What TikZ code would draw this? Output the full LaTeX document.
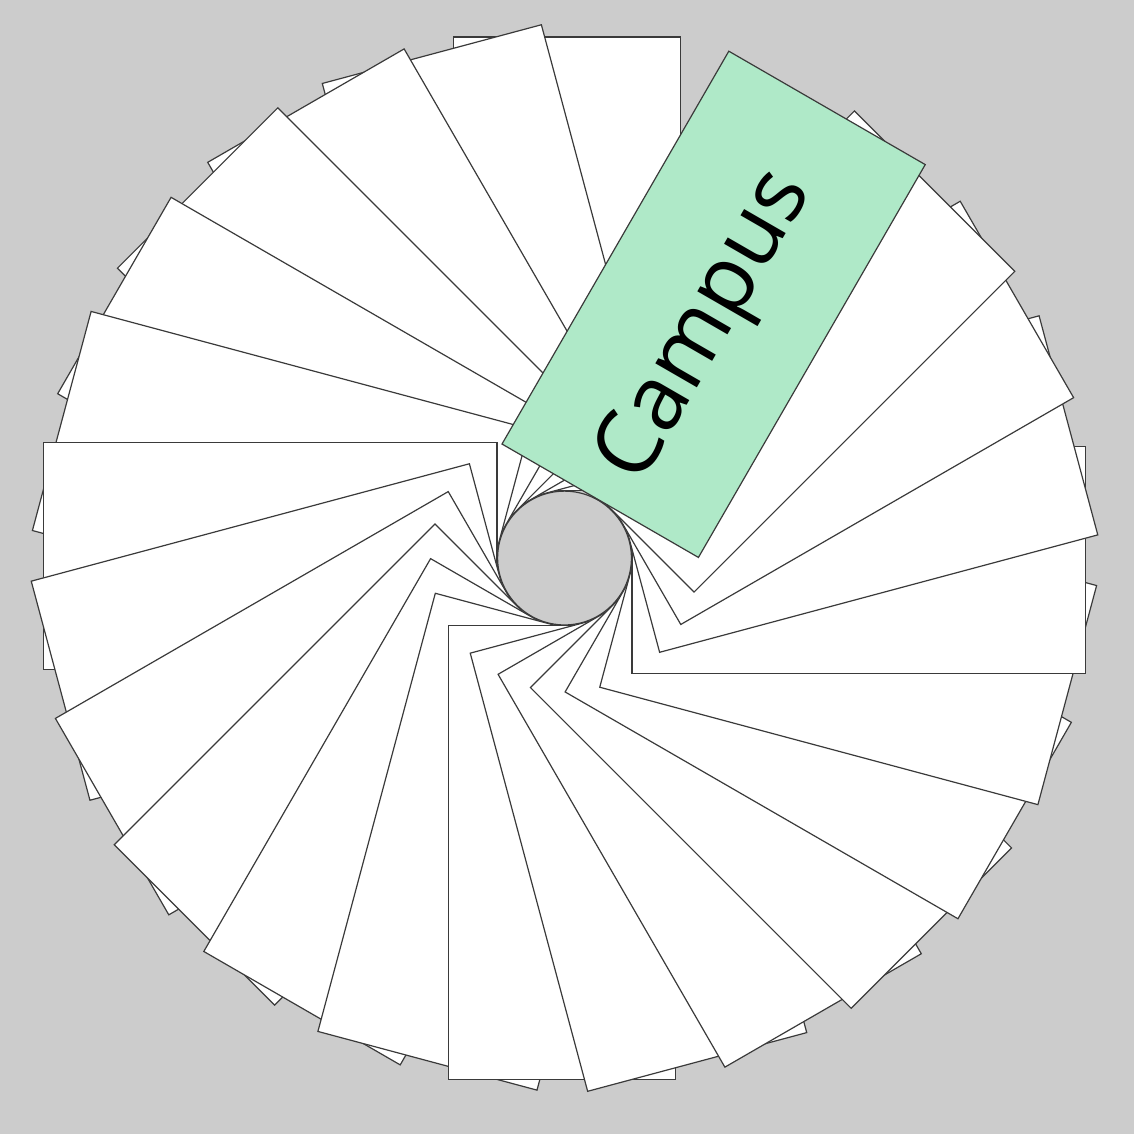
\documentclass[tikz,border=0pt]{standalone}
\usepackage{fontspec}
\setsansfont{Open Sans}
\definecolor{bg}{HTML}{CCCCCC}
\definecolor{mint}{HTML}{AFE9C8}
\definecolor{rim}{HTML}{3A3A3A}

\begin{document}
\begin{tikzpicture}
\fill[bg] (-4.978,-5.079) rectangle (5.022,4.921);
% the fan of cards, each one laid over the one before
\foreach \a in {90,105,...,405}
  \draw[rim,fill=white,line width=0.3pt,rotate=\a] (0.595,-1.02) rectangle (4.595,0.98);
\begin{scope}[rotate=60]
\draw[rim,fill=mint,line width=0.3pt] (0.595,-1.02) rectangle (4.595,0.98);
\node[transform shape,text depth=0pt,font=\sffamily\fontsize{22.5}{22.5}\selectfont] (campus) at (2.39,0.02) {Campus};
\end{scope}
\node[circle,draw=rim,fill=bg,line width=0.3pt,minimum size=1.18cm,inner sep=0pt] (hub) at (0,0) {};
\end{tikzpicture}
\end{document}
